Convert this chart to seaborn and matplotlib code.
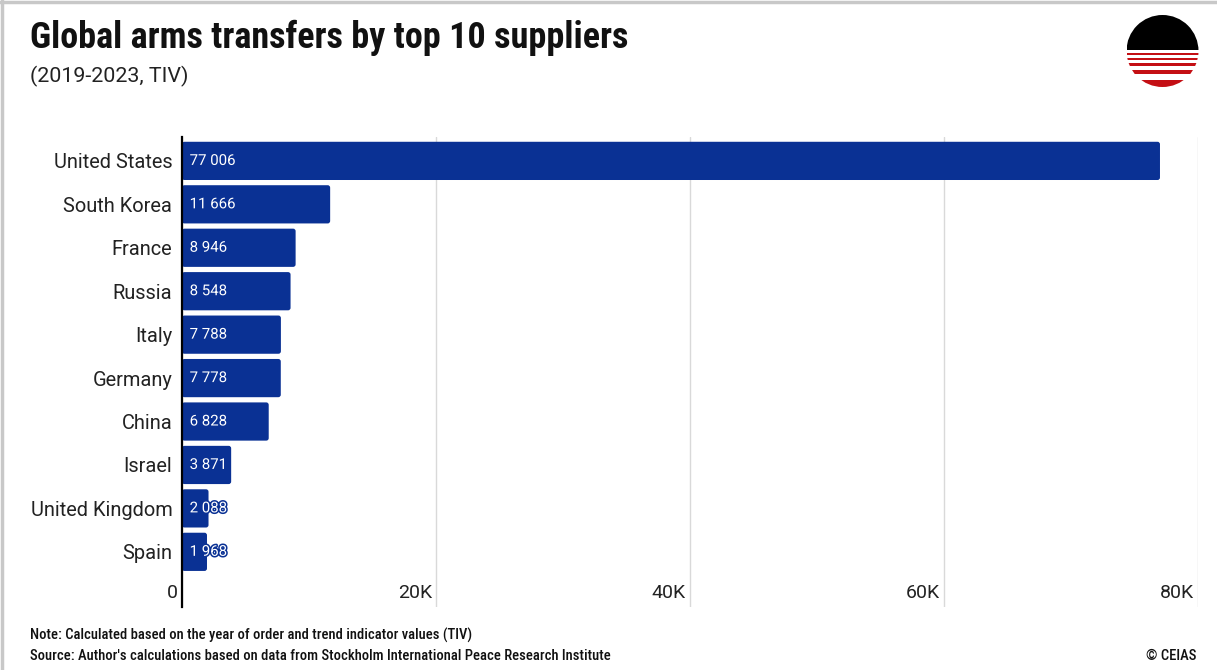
import matplotlib
matplotlib.use("Agg")
import matplotlib.pyplot as plt
import matplotlib.patheffects as pe
from matplotlib.patches import Circle, Rectangle, FancyBboxPatch
import seaborn as sns
import pandas as pd

# Top 10 arms suppliers, 2019-2023, TIV (millions)
countries = ["United States", "South Korea", "France", "Russia", "Italy",
             "Germany", "China", "Israel", "United Kingdom", "Spain"]
tiv = [77006, 11666, 8946, 8548, 7788, 7778, 6828, 3871, 2088, 1968]
tick_values = [0, 20000, 40000, 60000, 80000]
tick_labels = ["0", "20K", "40K", "60K", "80K"]

BAR = "#0a3194"
W, H = 1217, 670
COND = ["Roboto Condensed", "Roboto", "DejaVu Sans"]

sns.set_theme(style="white")
plt.rcParams["font.family"] = ["Roboto", "DejaVu Sans"]

df = pd.DataFrame({"country": countries, "tiv": tiv})

fig = plt.figure(figsize=(W / 100, H / 100), dpi=100)
fig.patch.set_facecolor("white")

def fx(px):
    return px / W

def fy(py):
    return 1 - py / H

ax_l, ax_r, ax_t, ax_b = 182, 1198, 137, 607
ax = fig.add_axes([fx(ax_l), fy(ax_b), fx(ax_r - ax_l), (ax_b - ax_t) / H])

sns.barplot(data=df, x="tiv", y="country", color=BAR, saturation=1,
            width=0.88, orient="h", ax=ax)

ax.set_xlim(0, 80000)
ax.set_ylim(10.27, -0.55)

# give the bars slightly rounded corners
x_per_px = 80000 / (ax_r - ax_l)
y_per_px = (10.27 + 0.55) / (ax_b - ax_t)
for bar in list(ax.patches):
    x0, y0 = bar.get_x(), bar.get_y()
    w, h = bar.get_width(), bar.get_height()
    rounded = FancyBboxPatch((x0, y0), w, h,
                             boxstyle=f"round,pad=0,rounding_size={2.5 * x_per_px}",
                             mutation_aspect=y_per_px / x_per_px,
                             facecolor=BAR, edgecolor="none", zorder=bar.get_zorder())
    bar.set_visible(False)
    ax.add_patch(rounded)

ax.set_xlabel("")
ax.set_ylabel("")
ax.set_xticks(tick_values)
ax.set_xticklabels([])
ax.tick_params(axis="both", length=0)
ax.tick_params(axis="y", labelsize=14.4, pad=7, labelcolor="#222222")
ax.grid(axis="x", color="#d9d9d9", linewidth=1)
ax.set_axisbelow(True)
for side in ["top", "right", "bottom"]:
    ax.spines[side].set_visible(False)
ax.spines["left"].set_color("black")
ax.spines["left"].set_linewidth(1.6)
ax.spines["left"].set_zorder(5)

# x tick labels sit inside the plot, right-aligned to their gridlines
for v, lab in zip(tick_values, tick_labels):
    ax.annotate(lab, xy=(v, 0), xycoords=ax.get_xaxis_transform(),
                xytext=(-4, 14), textcoords="offset pixels",
                ha="right", va="center", fontsize=14, color="#222222")

# value labels inside the bars
for i, v in enumerate(tiv):
    ax.annotate(f"{v:,}".replace(",", " "), xy=(0, i), xytext=(5.5, 0),
                textcoords="offset points", ha="left", va="center",
                fontsize=10.8, color="white", zorder=6,
                path_effects=[pe.withStroke(linewidth=2.2, foreground=BAR)])

# title block
fig.text(fx(30), fy(48), "Global arms transfers by top 10 suppliers",
         family=COND, fontweight="bold", fontsize=26, color="#111111",
         va="baseline", ha="left")
fig.text(fx(30), fy(82), "(2019-2023, TIV)", fontsize=15.4, color="#222222",
         va="baseline", ha="left")

# footer
foot = dict(family=COND, fontsize=10.5, fontweight="medium", color="#111111",
            va="baseline")
fig.text(fx(30), fy(640), "Note: Calculated based on the year of order and trend indicator values (TIV)",
         ha="left", **foot)
fig.text(fx(30), fy(660), "Source: Author's calculations based on data from Stockholm International Peace Research Institute",
         ha="left", **foot)
fig.text(fx(1196), fy(660), "© CEIAS", ha="right", **foot)

# frame lines along the top and left edges
fig.add_artist(plt.Line2D([0, 1], [fy(2), fy(2)], transform=fig.transFigure,
                          color="#c8c8c8", linewidth=2.5))
fig.add_artist(plt.Line2D([fx(2), fx(2)], [0, 1], transform=fig.transFigure,
                          color="#c8c8c8", linewidth=2.5))

# logo: black disc top with red stripes below
cx, cy, r = 1162.5, 51, 36
RED = "#c40f14"
lax = fig.add_axes([fx(cx - r), fy(cy + r), fx(2 * r), 2 * r / H])
lax.set_xlim(-r, r)
lax.set_ylim(r, -r)
lax.axis("off")
clip = Circle((0, 0), r, transform=lax.transData, facecolor="none", edgecolor="none")
lax.add_patch(clip)
bands = [(0, 50, "black"), (50, 53, "white"), (53, 55.3, RED),
         (55.3, 57.7, "white"), (57.7, 60, RED), (60, 62.7, "white"),
         (62.7, 65.5, RED), (65.5, 70, "white"), (70, 73.5, RED),
         (73.5, 80, "white"), (80, 95, RED)]
for y0, y1, c in bands:
    rect = Rectangle((-r, y0 - cy), 2 * r, y1 - y0, facecolor=c,
                     edgecolor="none")
    lax.add_patch(rect)
    rect.set_clip_path(clip)

fig.savefig("out.png", dpi=100, facecolor="white")
